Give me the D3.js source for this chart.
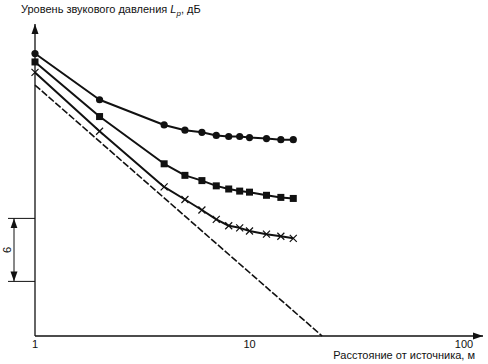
<!DOCTYPE html>
<html>
<head>
<meta charset="utf-8">
<script src="https://cdn.jsdelivr.net/npm/d3@7"></script>
<style>
  body { margin: 0; background: #fff; }
  text { font-family: "Liberation Sans", Arial, sans-serif; fill: #111; }
</style>
</head>
<body>
<div id="chart"></div>
<script>
// distances, m
const distances = [1, 2, 4, 5, 6, 7, 8, 9, 10, 12, 14, 16];
// sound pressure level, dB (relative)
const circleLevels = [26.9, 22.5, 20.1, 19.6, 19.4, 19.1, 19.0, 19.0, 18.9, 18.8, 18.7, 18.7];
const squareLevels = [26.1, 20.9, 16.4, 15.3, 14.8, 14.3, 14.0, 13.8, 13.7, 13.4, 13.2, 13.1];
const crossLevels = [25.1, 19.5, 14.2, 13.0, 12.0, 11.1, 10.5, 10.3, 10.0, 9.7, 9.5, 9.3];
// free-field line (dashed)
const freeField = [[1, 23.9], [21.8, 0]];
const xTicks = [1, 10, 100];
const bracket = [5.2, 11.2]; // 6 dB

const svgWidth = 488;
const svgHeight = 364;

const svg = d3.select("#chart")
  .append("svg")
  .attr("width", svgWidth)
  .attr("height", svgHeight);

const x = d3.scaleLog()
  .domain([1, 100])
  .range([35, 464]);

const y = d3.scaleLinear()
  .domain([0, 30])
  .range([336, 21]);

// arrow marker
svg.append("defs").append("marker")
  .attr("id", "arr")
  .attr("viewBox", "0 0 10 10")
  .attr("refX", 10)
  .attr("refY", 5)
  .attr("markerWidth", 10)
  .attr("markerHeight", 10)
  .attr("markerUnits", "userSpaceOnUse")
  .attr("orient", "auto-start-reverse")
  .append("path")
  .attr("d", "M0,1.5 L10,5 L0,8.5 Z")
  .attr("fill", "#111");

// axes
svg.append("line")
  .attr("x1", 35).attr("y1", 336)
  .attr("x2", 483).attr("y2", 336)
  .attr("stroke", "#111").attr("stroke-width", 1.3)
  .attr("marker-end", "url(#arr)");

svg.append("line")
  .attr("x1", 35).attr("y1", 336)
  .attr("x2", 35).attr("y2", 24)
  .attr("stroke", "#111").attr("stroke-width", 1.3)
  .attr("marker-end", "url(#arr)");

svg.selectAll(".xtick")
  .data(xTicks)
  .enter()
  .append("text")
  .attr("x", d => x(d))
  .attr("y", 348)
  .attr("text-anchor", "middle")
  .attr("font-size", 11)
  .text(d => d);

svg.append("text")
  .attr("x", 475)
  .attr("y", 359)
  .attr("text-anchor", "end")
  .attr("font-size", 11)
  .text("Расстояние от источника, м");

const yLabel = svg.append("text")
  .attr("x", 21)
  .attr("y", 13)
  .attr("font-size", 11);
yLabel.append("tspan").text("Уровень звукового давления ");
yLabel.append("tspan").attr("font-style", "italic").text("L");
yLabel.append("tspan").attr("font-style", "italic").attr("font-size", 8).attr("dy", 3).text("p");
yLabel.append("tspan").attr("dy", -3).text(", дБ");

// 6 dB bracket
svg.selectAll(".brk")
  .data(bracket)
  .enter()
  .append("line")
  .attr("x1", 8).attr("x2", 35)
  .attr("y1", d => y(d)).attr("y2", d => y(d))
  .attr("stroke", "#111").attr("stroke-width", 1);

svg.append("line")
  .attr("x1", 14).attr("x2", 14)
  .attr("y1", y(bracket[0])).attr("y2", y(bracket[1]))
  .attr("stroke", "#111").attr("stroke-width", 1)
  .attr("marker-start", "url(#arr)")
  .attr("marker-end", "url(#arr)");

svg.append("text")
  .attr("transform", `translate(11, ${y((bracket[0] + bracket[1]) / 2)}) rotate(-90)`)
  .attr("text-anchor", "middle")
  .attr("font-size", 11)
  .text("6");

const line = d3.line()
  .x(d => x(d[0]))
  .y(d => y(d[1]));

// dashed free-field line
svg.append("path")
  .attr("d", line(freeField))
  .attr("fill", "none")
  .attr("stroke", "#111")
  .attr("stroke-width", 1.6)
  .attr("stroke-dasharray", "7,2");

const series = [
  { values: circleLevels, marker: "circle" },
  { values: squareLevels, marker: "square" },
  { values: crossLevels, marker: "cross" }
];

series.forEach(function(s) {
  const pts = distances.map((d, i) => [d, s.values[i]]);

  svg.append("path")
    .attr("d", line(pts))
    .attr("fill", "none")
    .attr("stroke", "#111")
    .attr("stroke-width", 2)
    .attr("stroke-linejoin", "round");

  const g = svg.append("g");
  if (s.marker === "circle") {
    g.selectAll("circle")
      .data(pts)
      .enter()
      .append("circle")
      .attr("cx", d => x(d[0]))
      .attr("cy", d => y(d[1]))
      .attr("r", 3.6)
      .attr("fill", "#111");
  } else if (s.marker === "square") {
    g.selectAll("rect")
      .data(pts)
      .enter()
      .append("rect")
      .attr("x", d => x(d[0]) - 3.5)
      .attr("y", d => y(d[1]) - 3.5)
      .attr("width", 7)
      .attr("height", 7)
      .attr("fill", "#111");
  } else {
    g.selectAll("path")
      .data(pts)
      .enter()
      .append("path")
      .attr("d", d => {
        const cx = x(d[0]), cy = y(d[1]);
        return `M${cx - 3.5},${cy - 3.5}L${cx + 3.5},${cy + 3.5}M${cx - 3.5},${cy + 3.5}L${cx + 3.5},${cy - 3.5}`;
      })
      .attr("stroke", "#111")
      .attr("stroke-width", 1.2);
  }
});
</script>
</body>
</html>
